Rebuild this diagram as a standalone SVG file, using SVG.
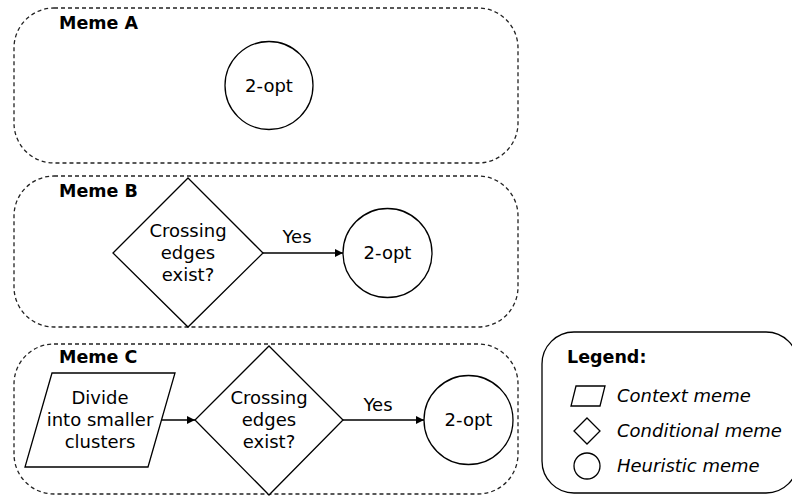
<svg xmlns="http://www.w3.org/2000/svg" width="792" height="499" viewBox="0 0 792 499">
<defs>
<style>
.grp{fill:none;stroke:#222;stroke-width:1.3;stroke-dasharray:4 3}
.shape{fill:#fff;stroke:#000;stroke-width:1.3}
.edge{fill:none;stroke:#000;stroke-width:1.3}
text{font-family:"DejaVu Sans",Verdana,sans-serif;font-size:18px;fill:#000}
.c{text-anchor:middle}
.b{font-weight:bold;font-size:17.5px}
.i{font-style:italic}
</style>
<marker id="ah" viewBox="0 0 10 10" refX="10" refY="5" markerWidth="8" markerHeight="8" markerUnits="userSpaceOnUse" orient="auto">
<path d="M0,0 L10,5 L0,10 z" fill="#000"/>
</marker>
</defs>
<rect width="792" height="499" fill="#fff"/>
<g id="memeA">
<rect class="grp" x="14" y="8" width="504" height="155" rx="40" ry="40"/>
<text class="b" x="59" y="29">Meme A</text>
</g>
<g id="memeB">
<rect class="grp" x="14" y="176" width="504" height="151" rx="40" ry="40"/>
<text class="b" x="59" y="197">Meme B</text>
</g>
<g id="memeC">
<rect class="grp" x="14" y="344" width="504" height="150" rx="40" ry="40"/>
<text class="b" x="59" y="363">Meme C</text>
</g>
<g id="a_2opt">
<circle class="shape" cx="269" cy="85.5" r="44"/>
<text class="c" x="269" y="92">2-opt</text>
</g>
<g id="b_cond">
<polygon class="shape" points="188,178 263,253 188,327 113,253"/>
<text class="c" x="188" y="237">Crossing</text>
<text class="c" x="188" y="259">edges</text>
<text class="c" x="188" y="281">exist?</text>
</g>
<g id="b_2opt">
<circle class="shape" cx="387.5" cy="253" r="44.5"/>
<text class="c" x="387.5" y="259">2-opt</text>
</g>
<g id="c_ctx">
<polygon class="shape" points="52,373 175,373 148,467 25,467"/>
<text class="c" x="100" y="404">Divide</text>
<text class="c" x="100" y="426">into smaller</text>
<text class="c" x="100" y="448">clusters</text>
</g>
<g id="c_cond">
<polygon class="shape" points="269,346 343,420 269,495 195,420"/>
<text class="c" x="269" y="404">Crossing</text>
<text class="c" x="269" y="426">edges</text>
<text class="c" x="269" y="448">exist?</text>
</g>
<g id="c_2opt">
<circle class="shape" cx="468.5" cy="420" r="44.5"/>
<text class="c" x="468.5" y="426">2-opt</text>
</g>
<g id="connectors">
<line class="edge" x1="263" y1="253" x2="343" y2="253" marker-end="url(#ah)"/>
<text class="c" x="297" y="243">Yes</text>
<line class="edge" x1="161.5" y1="420" x2="195" y2="420" marker-end="url(#ah)"/>
<line class="edge" x1="343" y1="420" x2="424" y2="420" marker-end="url(#ah)"/>
<text class="c" x="378" y="411">Yes</text>
</g>
<g id="legend">
<rect x="542" y="332" width="256" height="161" rx="32" ry="32" fill="#fff" stroke="#000" stroke-width="1.3"/>
<text class="b" x="567" y="363">Legend:</text>
<polygon class="shape" points="576,386 605,386 600,406 571,406"/>
<text class="i" x="617" y="402">Context meme</text>
<polygon class="shape" points="587,418 600,431 587,444 574,431"/>
<text class="i" x="617" y="437">Conditional meme</text>
<circle class="shape" cx="587" cy="466" r="13"/>
<text class="i" x="617" y="472">Heuristic meme</text>
</g>
</svg>
